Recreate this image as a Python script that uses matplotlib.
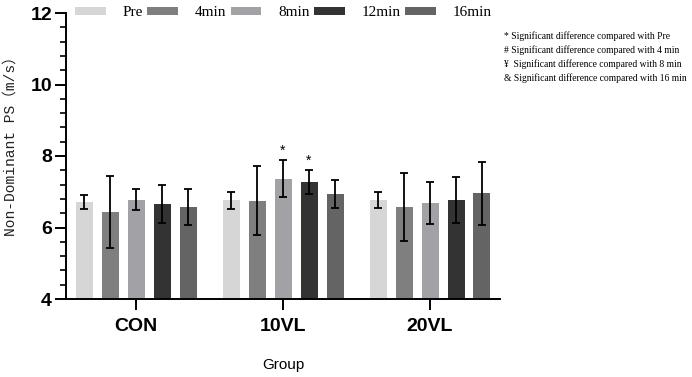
import matplotlib
matplotlib.use("Agg")
import matplotlib.pyplot as plt
import numpy as np
from matplotlib.ticker import MultipleLocator

groups = ["CON", "10VL", "20VL"]
series = ["Pre", "4min", "8min", "12min", "16min"]
means = {
    "Pre":   [6.72, 6.76, 6.77],
    "4min":  [6.43, 6.75, 6.57],
    "8min":  [6.78, 7.36, 6.69],
    "12min": [6.65, 7.28, 6.76],
    "16min": [6.58, 6.93, 6.96],
}
errs = {
    "Pre":   [0.20, 0.23, 0.22],
    "4min":  [1.00, 0.97, 0.96],
    "8min":  [0.30, 0.52, 0.59],
    "12min": [0.53, 0.33, 0.64],
    "16min": [0.50, 0.39, 0.88],
}
colors = ["#d6d6d6", "#7f7f7f", "#a1a1a6", "#333333", "#646464"]
sig_marks = [("8min", 1, "*"), ("12min", 1, "*")]
notes = ["* Significant difference compared with Pre",
         "# Significant difference compared with 4 min",
         "\u00a5  Significant difference compared with 8 min",
         "& Significant difference compared with 16 min"]

fig = plt.figure(figsize=(6.92, 3.77), dpi=100)
ax = fig.add_axes([66/692, 1-299/377, (500-66)/692, (299-13)/377])

x = np.arange(len(groups))
step = 26/147
width = 17/147
for i, s in enumerate(series):
    off = (i - 2) * step
    ax.bar(x + off, means[s], width, color=colors[i], label=s, zorder=2)
    ax.errorbar(x + off, means[s], yerr=errs[s], fmt="none", ecolor="black",
                elinewidth=1.3, capsize=3.2, capthick=1.3, zorder=3)

for s, g, m in sig_marks:
    i = series.index(s)
    y = means[s][g] + errs[s][g]
    ax.text(g + (i - 2) * step, y + 0.07, m, ha="center", va="bottom",
            fontsize=10, family="Liberation Sans")

ax.set_ylim(4, 12)
ax.set_xlim(-70/147, 2 + 70/147)
ax.yaxis.set_major_locator(MultipleLocator(2))
ax.yaxis.set_minor_locator(MultipleLocator(0.4))
ax.set_xticks(x)
ax.set_xticklabels(groups)
for sp in ["top", "right"]:
    ax.spines[sp].set_visible(False)
for sp in ["left", "bottom"]:
    ax.spines[sp].set_linewidth(1.4)
ax.tick_params(axis="y", which="major", length=8, width=1.4, labelsize=14, pad=2)
ax.tick_params(axis="y", which="minor", length=4, width=1.2)
ax.tick_params(axis="x", which="major", length=8, width=1.4, labelsize=14, pad=6)
for lab in ax.get_yticklabels() + ax.get_xticklabels():
    lab.set_fontweight("bold")
    lab.set_family("Liberation Sans")

ax.set_xlabel("Group", fontsize=11, family="Liberation Sans")
ax.xaxis.set_label_coords(0.5, -(365-299)/286, transform=ax.transAxes)
ax.xaxis.label.set_va("center")
ax.set_ylabel("Non-Dominant PS\uff08m/s\uff09", fontsize=10.5, color="#222222",
              family=["Liberation Mono", "Noto Sans CJK SC"])
ax.yaxis.set_label_coords((11-66)/434, (299-143)/286)
ax.yaxis.label.set_va("center")

leg = fig.legend(loc="center left", bbox_to_anchor=(75/692, 1-13/377), ncol=5,
                 frameon=False, prop={"family": "Liberation Serif", "size": 11},
                 handlelength=2.0, handleheight=0.4, handletextpad=1.1,
                 columnspacing=0.3, borderaxespad=0, borderpad=0)

for k, t in enumerate(notes):
    fig.text(504/692, 1-(36 + 14*k)/377, t, fontsize=6.9,
             family="Liberation Serif", va="center", ha="left")

fig.savefig("out.png", dpi=100)
